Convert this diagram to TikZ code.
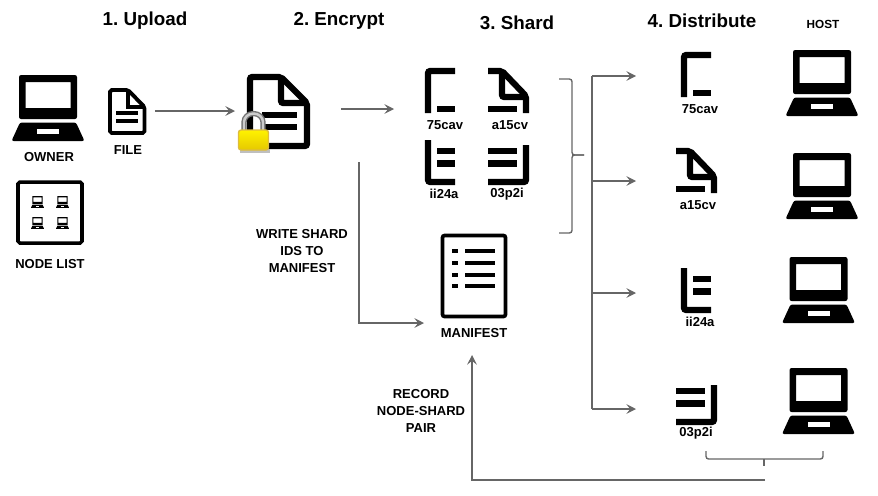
\documentclass[tikz,border=0pt]{standalone}
\usepackage{fontspec}
\setmainfont{Liberation Sans}
\frenchspacing
\usetikzlibrary{arrows.meta,positioning}
\definecolor{linegray}{HTML}{666666}
\tikzset{
  txt/.style={font=\fontsize{7.4}{9}\selectfont\bfseries,align=center,inner sep=0pt},
  head/.style={font=\fontsize{10.7}{13}\selectfont\bfseries,inner sep=0pt},
  spot/.style={inner sep=0pt,outer sep=0pt,minimum width=#1},
  line/.style={draw=linegray,line width=0.8pt},
  flow/.style={line,-{Stealth[inset=2.2pt,length=5.5pt,width=5.5pt]}},
  ink/.style={line width=3.5pt,line cap=butt,rounded corners=1.2pt},
  laptop/.pic={
    \fill[even odd rule,rounded corners=#1] (-29,0) rectangle (29,44) [sharp corners] (-22.5,7) rectangle (22.5,33);
    \fill[rounded corners=#1] (-28,47.5)--(28,47.5)--(36.5,66)--(-36.5,66)--cycle;
    \fill[white] (-11,54) rectangle (11,59);
  },
  shardA/.pic={
    \draw[ink] (3,45)--(3,3)--(30,3);
    \draw[ink] (12,41)--(30,41);
  },
  shardB/.pic={
    \draw[ink] (0,3)--(14,3)--(38,28)--(38,45);
    \draw[ink] (14,3)--(14,29)--(38,29);
    \draw[ink] (0,41)--(29,41);
  },
  shardC/.pic={
    \draw[ink] (3,0)--(3,42)--(30,42);
    \draw[ink] (12,11)--(30,11);
    \draw[ink] (12,23.5)--(30,23.5);
  },
  shardD/.pic={
    \draw[ink] (38,5)--(38,42)--(0,42);
    \draw[ink] (0,11)--(29,11);
    \draw[ink] (0,23.5)--(29,23.5);
  },
}
\begin{document}
\begin{tikzpicture}[x=0.02cm,y=-0.02cm]
\useasboundingbox (0,0) rectangle (878,495);
% headings
\node[head](upload) at (145,21){1. Upload};
\node[head](encrypt) at (339,21){2. Encrypt};
\node[head](shard) at (517,23){3. Shard};
\node[head](distribute) at (702,21){4. Distribute};
\node[txt,font=\fontsize{6.7}{8}\selectfont\bfseries](host) at (823,24){HOST};
% owner and node list
\pic at (48,75){laptop=1.2pt};
\node[txt](owner) at (49,157){OWNER};
\draw[line width=2pt,rounded corners=1pt] (18,182) rectangle (82,243);
\foreach \x in {37.5,62.5}
  \foreach \y in {196,217}
    \pic[scale=0.18] at (\x,\y){laptop=0.15pt};
\node[txt](nodelist) at (50,264){NODE LIST};
% file
\node[spot=1.12cm,minimum height=1cm](file) at (127,111){};
\draw[line width=2.2pt,rounded corners=1pt] (110,90)--(128,90)--(144.5,107)--(144.5,133)--(110,133)--cycle;
\draw[line width=2.2pt] (128,90)--(128,107)--(144.5,107);
\draw[line width=2.2pt] (116,113)--(138,113) (116,121)--(138,121);
\node[txt](filetxt) at (128,150){FILE};
% encrypted file
\node[spot=2.12cm,minimum height=1.6cm](encfile) at (288,109){};
\draw[ink] (250,77)--(281,77)--(307,103)--(307,146)--(250,146)--cycle;
\draw[ink] (281,77)--(281,103)--(307,103);
\draw[line width=2.9pt] (262,115)--(297,115) (262,127)--(297,127);
\fill[black!25] (240,149) rectangle (270,153);
\draw[black!55,line width=3pt] (244,131)--(244,122) arc[start angle=180,end angle=360,x radius=9.5,y radius=8.5]--(263,131);
\draw[black!20,line width=1.4pt] (244,131)--(244,122) arc[start angle=180,end angle=360,x radius=9.5,y radius=8.5]--(263,131);
\shade[top color=yellow!90!orange,bottom color=yellow!75!orange!90!black,draw=yellow!45!brown,line width=0.8pt,rounded corners=1.5pt] (238.5,130) rectangle (268.5,150);
% shards
\node[spot=2.8cm,minimum height=2.8cm](shards) at (464,130){};
\pic at (425,68){shardA};
\pic at (488,68){shardB};
\pic at (425,140){shardC};
\pic at (488,140){shardD};
\node[txt](s1) at (445,125){75cav};
\node[txt](s2) at (510,125){a15cv};
\node[txt](s3) at (444,194){ii24a};
\node[txt](s4) at (507,194){03p2i};
% manifest
\node[spot=1.92cm,minimum height=1.28cm](manifest) at (472,323){};
\draw[line width=2.1pt,rounded corners=1.2pt] (442.5,235.5) rectangle (505.5,316.5);
\foreach \y in {251,263,275,286}{
  \draw[line width=1.8pt] (452,\y)--(458,\y);
  \draw[line width=1.8pt] (465,\y)--(495,\y);
}
\node[txt](manifesttxt) at (474,333){MANIFEST};
\node[txt](write) at (302,251){WRITE SHARD\\[0.6pt]IDS TO\\[0.6pt]MANIFEST};
\node[txt](record) at (421,411){RECORD\\[0.6pt]NODE-SHARD\\[0.6pt]PAIR};
% distributed shards and hosts
\node[spot=2.4cm](d1) at (696,76){};
\node[spot=2.4cm](d2) at (696,181){};
\node[spot=2.4cm](d3) at (696,293){};
\node[spot=2.4cm](d4) at (696,409){};
\pic at (681,52){shardA};
\pic at (676,148){shardB};
\pic at (681,268){shardC};
\pic at (676,380){shardD};
\node[txt](t1) at (700,109){75cav};
\node[txt](t2) at (698,205){a15cv};
\node[txt](t3) at (700,322){ii24a};
\node[txt](t4) at (696,433){03p2i};
\pic at (822,50){laptop=1.2pt};
\pic at (822,153){laptop=1.2pt};
\pic at (818.5,257){laptop=1.2pt};
\pic at (818.5,368){laptop=1.2pt};
% connectors
\coordinate(trunk) at (592,76);
\coordinate(writestart) at (359,162);
\coordinate(recordstart) at (765,480);
\draw[flow](file.east)--(encfile.west |- file.east);
\draw[flow](encfile.east)--(encfile.east -| shards.west);
\draw[flow](writestart)|-(manifest.west);
\draw[flow](recordstart)-|(manifest.south);
\draw[line](trunk)--(trunk |- d4.west);
\foreach \d in {d1,d2,d3,d4}
  \draw[flow](trunk |- \d.west)--(\d.west);
% braces
\draw[line,rounded corners=1.5pt] (559,79)--(572,79)--(572,155)--(584,155);
\draw[line,rounded corners=1.5pt] (584,155)--(572,155)--(572,233)--(559,233);
\draw[line,rounded corners=1.5pt] (706,451)--(706,459)--(823,459)--(823,451);
\draw[line] (764,459)--(764,466);
\end{tikzpicture}
\end{document}
